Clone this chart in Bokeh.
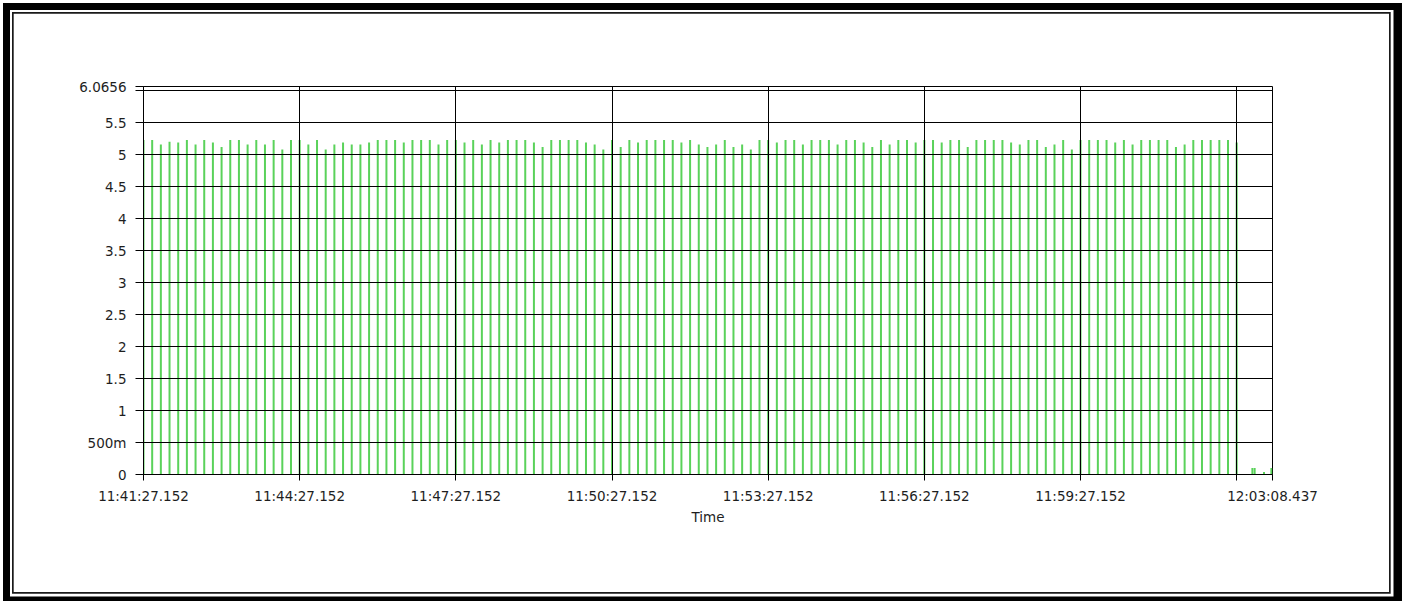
from bokeh.plotting import figure
from bokeh.models import FixedTicker, ColumnDataSource, Range1d
from bokeh.embed import file_html
from bokeh.resources import INLINE

# ---------------- data ----------------
start_time_label = "11:41:27.152"
spike_period_s = 10          # one pulse every 10 s starting at 11:41:27.152
spike_values = [
    5.23, 5.23, 5.16, 5.20, 5.19, 5.23, 5.16, 5.23, 5.19, 5.12,
    5.23, 5.23, 5.16, 5.23, 5.16, 5.23, 5.08, 5.23, 5.23, 5.16,
    5.23, 5.08, 5.16, 5.19, 5.16, 5.16, 5.19, 5.23, 5.23, 5.23,
    5.19, 5.23, 5.23, 5.23, 5.16, 5.23, 5.23, 5.19, 5.23, 5.16,
    5.23, 5.19, 5.23, 5.23, 5.23, 5.19, 5.12, 5.23, 5.23, 5.23,
    5.23, 5.19, 5.16, 5.08, 5.23, 5.12, 5.23, 5.19, 5.23, 5.23,
    5.23, 5.23, 5.19, 5.23, 5.16, 5.12, 5.16, 5.23, 5.12, 5.16,
    5.08, 5.23, 5.23, 5.19, 5.23, 5.23, 5.16, 5.23, 5.23, 5.23,
    5.16, 5.23, 5.23, 5.19, 5.12, 5.23, 5.16, 5.23, 5.23, 5.19,
    5.23, 5.23, 5.19, 5.23, 5.23, 5.12, 5.23, 5.23, 5.23, 5.23,
    5.19, 5.16, 5.23, 5.23, 5.12, 5.16, 5.23, 5.08, 5.23, 5.23,
    5.23, 5.23, 5.19, 5.23, 5.16, 5.23, 5.23, 5.23, 5.23, 5.12,
    5.16, 5.23, 5.23, 5.23, 5.23, 5.23, 5.19,
]
blip_offsets_s = [1278.1, 1280.7, 1291.5, 1300.0]
blip_values = [0.10, 0.10, 0.04, 0.10]

x_tick_offsets_s = [0, 180, 360, 540, 720, 900, 1080, 1260, 1301.285]
x_tick_labels = ["11:41:27.152", "11:44:27.152", "11:47:27.152", "11:50:27.152",
                 "11:53:27.152", "11:56:27.152", "11:59:27.152", "", "12:03:08.437"]
y_ticks = [0, 0.5, 1, 1.5, 2, 2.5, 3, 3.5, 4, 4.5, 5, 5.5, 6, 6.0656]
y_tick_labels = ["0", "500m", "1", "1.5", "2", "2.5", "3", "3.5", "4", "4.5",
                 "5", "5.5", "", "6.0656"]
x_title = "Time"

# ---------------- figure ----------------
W, H = 1402, 601
p = figure(width=W, height=H, output_backend="svg", toolbar_location=None,
           x_range=Range1d(0, x_tick_offsets_s[-1]), y_range=Range1d(0, y_ticks[-1]),
           min_border_left=143, min_border_right=130, min_border_top=86,
           min_border_bottom=127)
p.background_fill_color = "white"
p.border_fill_alpha = 0
p.outline_line_color = "black"
p.outline_line_width = 1
p.outline_line_alpha = 1


# page frame drawn with inset CSS shadows: rings listed outermost first
def ring(color, left, top, right, bottom):
    return [f"inset {left}px 0 0 0 {color}", f"inset 0 {top}px 0 0 {color}",
            f"inset -{right}px 0 0 0 {color}", f"inset 0 -{bottom}px 0 0 {color}"]


shadows = []
shadows += ring("white", 3, 3, 0.01, 0.01)
shadows += ring("black", 10, 10, 8.5, 4.5)
shadows += ring("white", 12, 12, 11.3, 7.3)
shadows += ring("#1a1a1a", 13.7, 13.7, 13, 9)
p.styles = {"box-shadow": ", ".join(shadows), "background-color": "white"}

spike_t = [i * spike_period_s for i in range(len(spike_values))]
src = ColumnDataSource(dict(t=spike_t + blip_offsets_s, v=spike_values + blip_values))
p.segment(x0="t", y0=0, x1="t", y1="v", source=src, line_color="#5ad25a", line_width=2)

font = "DejaVu Sans"
fs = "13.5px"

p.xaxis.ticker = FixedTicker(ticks=x_tick_offsets_s)
p.xaxis.major_label_overrides = dict(zip(x_tick_offsets_s, x_tick_labels))
p.yaxis.ticker = FixedTicker(ticks=y_ticks)
p.yaxis.major_label_overrides = dict(zip(y_ticks, y_tick_labels))

for ax in (p.xaxis, p.yaxis):
    ax.axis_line_color = "black"
    ax.major_tick_line_color = "black"
    ax.minor_tick_line_color = None
    ax.major_tick_in = 0
    ax.major_label_text_font = font
    ax.major_label_text_font_size = fs
    ax.major_label_text_color = "#1e1e1e"

p.xaxis.major_tick_out = 6
p.xaxis.major_label_standoff = 7
p.yaxis.major_tick_out = 8
p.yaxis.major_label_standoff = 9

p.xaxis.axis_label = x_title
p.xaxis.axis_label_text_font = font
p.xaxis.axis_label_text_font_size = fs
p.xaxis.axis_label_text_font_style = "normal"
p.xaxis.axis_label_text_color = "#1e1e1e"
p.xaxis.axis_label_standoff = 2

for g in (p.xgrid, p.ygrid):
    g.grid_line_color = "black"
    g.grid_line_alpha = 1
    g.grid_line_width = 1
    g.level = "annotation"

open("out.html", "w").write(file_html(p, INLINE))
